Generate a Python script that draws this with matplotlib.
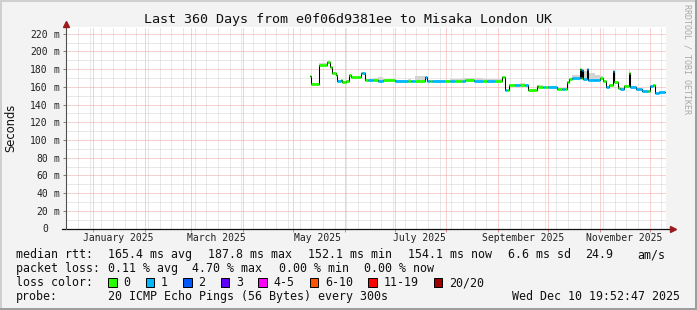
import matplotlib
matplotlib.use("Agg")
import matplotlib.pyplot as plt
import matplotlib.dates as mdates
from matplotlib.patches import Rectangle
from matplotlib.ticker import MultipleLocator
from matplotlib.transforms import blended_transform_factory
import pandas as pd

# ---------------- data ----------------
title = "Last 360 Days from e0f06d9381ee to Misaka London UK"
end_time = "2025-12-10 19:52:47"
span_days = 360

seg_start = [
    "2025-05-11 05:00", "2025-05-11 14:00", "2025-05-16 14:00", "2025-05-21 05:00",
    "2025-05-23 05:00", "2025-05-24 14:00", "2025-05-26 14:00", "2025-05-27 14:00",
    "2025-05-29 14:00", "2025-05-30 14:00", "2025-06-01 14:00", "2025-06-03 14:00",
    "2025-06-04 14:00", "2025-06-10 14:00", "2025-06-11 14:00", "2025-06-13 05:00",
    "2025-06-14 19:00", "2025-06-17 19:00", "2025-06-20 19:00", "2025-06-23 19:00",
    "2025-07-01 12:00", "2025-07-09 07:00", "2025-07-11 00:00", "2025-07-13 12:00",
    "2025-07-19 00:00", "2025-07-20 17:00", "2025-07-22 12:00", "2025-07-23 17:00",
    "2025-07-31 12:00", "2025-08-03 12:00", "2025-08-06 12:00", "2025-08-10 17:00",
    "2025-08-12 12:00", "2025-08-17 22:00", "2025-08-23 07:00", "2025-08-25 17:00",
    "2025-08-30 12:00", "2025-09-03 12:00", "2025-09-05 00:00", "2025-09-05 12:00",
    "2025-09-06 17:00", "2025-09-07 19:00", "2025-09-11 10:00", "2025-09-14 10:00",
    "2025-09-17 10:00", "2025-09-19 00:00", "2025-09-24 10:00", "2025-09-25 05:00",
    "2025-09-28 05:00", "2025-09-29 10:00", "2025-10-01 05:00", "2025-10-06 14:00",
    "2025-10-09 14:00", "2025-10-11 10:00", "2025-10-12 14:00", "2025-10-13 19:00",
    "2025-10-15 14:00", "2025-10-20 10:00", "2025-10-20 22:00", "2025-10-21 14:00",
    "2025-10-22 05:00", "2025-10-24 14:00", "2025-10-25 05:00", "2025-10-29 10:00",
    "2025-11-01 10:00", "2025-11-03 05:00", "2025-11-05 00:00", "2025-11-06 19:00",
    "2025-11-08 22:00", "2025-11-09 12:00", "2025-11-12 07:00", "2025-11-13 10:00",
    "2025-11-15 19:00", "2025-11-18 14:00", "2025-11-19 05:00", "2025-11-23 00:00",
    "2025-11-26 10:00", "2025-11-30 07:00", "2025-12-01 07:00", "2025-12-03 07:00",
    "2025-12-04 07:00", "2025-12-06 22:00",
]
seg_last_end = "2025-12-10 10:00"

median_ms = [
    171.8, 163.0, 184.4, 187.8, 183.0, 175.5, 173.3, 166.2,
    168.0, 165.0, 167.0, 173.7, 170.7, 176.0, 175.5, 168.0,
    167.8, 167.5, 167.2, 167.3, 167.0, 167.2, 167.0, 166.8,
    171.4, 167.2, 167.0, 166.8, 167.0, 167.2, 167.0, 167.1,
    167.3, 167.2, 167.0, 167.1, 167.2, 171.4, 163.5, 156.0,
    156.2, 162.5, 162.3, 162.5, 162.3, 156.7, 161.4, 159.6,
    159.8, 159.6, 160.3, 157.8, 157.6, 157.8, 166.0, 168.6,
    170.5, 180.6, 170.0, 179.0, 168.6, 180.0, 168.0, 167.8,
    170.4, 166.8, 159.5, 162.0, 177.5, 166.0, 159.3, 157.8,
    161.0, 176.0, 160.0, 157.6, 155.8, 155.2, 161.4, 162.0,
    153.4, 154.5,
]

loss_count = [
    0, 0, 0, 0, 0, 0, 0, 1,
    0, 0, 0, 0, 0, 0, 1, 0,
    1, 0, 1, 0, 1, 0, 1, 0,
    1, 1, 0, 1, 0, 1, 0, 1,
    0, 1, 0, 1, 0, 0, 0, 1,
    0, 0, 1, 0, 1, 0, 0, 0,
    1, 0, 1, 0, 1, 0, 0, 0,
    1, 0, 0, 1, 1, 1, 1, 1,
    0, 0, 1, 0, 1, 0, 0, 1,
    0, 0, 1, 1, 1, 0, 1, 0,
    1, 1,
]

smoke_ms = [
    172.5, 164.0, 186.5, 189.0, 184.0, 176.5, 174.5, 167.5,
    169.0, 166.5, 168.0, 175.0, 171.5, 177.0, 176.5, 169.0,
    169.0, 170.5, 171.0, 168.5, 168.0, 168.5, 168.0, 172.5,
    172.5, 168.0, 168.0, 168.0, 168.0, 168.5, 168.5, 169.5,
    169.5, 169.5, 169.0, 169.0, 169.0, 172.0, 164.0, 157.0,
    157.0, 163.5, 163.5, 164.5, 163.5, 157.5, 162.5, 162.0,
    161.5, 161.0, 161.5, 159.0, 158.5, 159.0, 167.0, 170.0,
    173.0, 182.0, 176.0, 181.0, 178.0, 181.0, 176.0, 173.0,
    172.0, 168.0, 161.0, 163.0, 178.5, 167.0, 160.5, 159.0,
    162.0, 179.0, 161.5, 159.0, 157.0, 156.5, 162.5, 163.0,
    154.5, 155.5,
]

y_ticks = [0, 20, 40, 60, 80, 100, 120, 140, 160, 180, 200, 220]
y_tick_numbers = ["0", "20", "40", "60", "80", "100", "120", "140", "160", "180", "200", "220"]
y_tick_units = ["", "m", "m", "m", "m", "m", "m", "m", "m", "m", "m", "m"]
y_max = 228

x_label_text = ["January 2025", "March 2025", "May 2025", "July 2025",
                "September 2025", "November 2025"]
x_label_dates = ["2025-01-16", "2025-03-16", "2025-05-16", "2025-07-16",
                 "2025-09-16", "2025-11-16"]

loss_labels = ["0", "1", "2", "3", "4-5", "6-10", "11-19", "20/20"]
loss_colors = ["#26ff00", "#00b8ff", "#0059ff", "#5e00ff",
               "#ff00ff", "#ff5500", "#ff0000", "#a10000"]

rtt_items = ["median rtt:", "165.4 ms avg", "187.8 ms max", "152.1 ms min",
             "154.1 ms now", "6.6 ms sd", "24.9", "am/s"]
loss_items = ["packet loss:", "0.11 % avg", "4.70 % max", "0.00 % min", "0.00 % now"]
probe_items = ["probe:", "20 ICMP Echo Pings (56 Bytes) every 300s"]
stamp_text = "Wed Dec 10 19:52:47 2025"
watermark = "RRDTOOL / TOBI OETIKER"

# ---------------- layout helpers ----------------
W, H = 697, 310
def fx(px):
    return px / W
def fy(py):
    return 1 - py / H

MONO = "DejaVu Sans Mono"
plt.rcParams["font.family"] = [MONO]

fig = plt.figure(figsize=(W / 100, H / 100), dpi=100)
fig.patch.set_facecolor("#f3f3f3")

ax_left, ax_right, ax_top, ax_bot = 66, 666, 26.7, 228.5
ax = fig.add_axes([fx(ax_left), fy(ax_bot), (ax_right - ax_left) / W, (ax_bot - ax_top) / H])
ax.set_facecolor("white")
for s in ax.spines.values():
    s.set_visible(False)

t_end = pd.Timestamp(end_time)
t_start = t_end - pd.Timedelta(days=span_days)
ax.set_xlim(mdates.date2num(t_start), mdates.date2num(t_end))
ax.set_ylim(0, y_max)

# grid
ax.xaxis.set_major_locator(mdates.MonthLocator())
ax.xaxis.set_minor_locator(mdates.WeekdayLocator(byweekday=mdates.MO))
ax.yaxis.set_major_locator(MultipleLocator(20))
ax.yaxis.set_minor_locator(MultipleLocator(10))
dot = (0, (1, 1))
ax.grid(which="major", color="#f0a4a4", linestyle=dot, linewidth=0.72)
ax.grid(which="minor", color="#d2d2d2", linestyle=dot, linewidth=0.72)
ax.set_axisbelow(True)
ax.tick_params(labelbottom=False, labelleft=False)
ax.tick_params(axis="x", which="major", length=2, color="#e08a8a", width=0.72)
ax.tick_params(axis="y", which="major", length=2, color="#808080", width=0.72)
ax.tick_params(which="minor", length=0)

# data
starts = list(mdates.date2num(pd.to_datetime(seg_start)))
ends = starts[1:] + [mdates.date2num(pd.Timestamp(seg_last_end))]
xs = starts + [ends[-1]]
ys = median_ms + [median_ms[-1]]
ss = smoke_ms + [smoke_ms[-1]]

def loss_color(n):
    if n <= 3:
        return loss_colors[n]
    if n <= 5:
        return loss_colors[4]
    if n <= 10:
        return loss_colors[5]
    if n <= 19:
        return loss_colors[6]
    return loss_colors[7]

ax.fill_between(xs, ys, ss, step="post", color="#d4d4d4", linewidth=0, zorder=2)
ax.step(xs, ys, where="post", color="black", linewidth=0.75, zorder=3)
ax.hlines(median_ms, starts, ends, colors=[loss_color(n) for n in loss_count],
          linewidth=2.0, zorder=4)

# axes lines + arrows
ax.plot([-4 / 600, 1.012], [0, 0], transform=ax.transAxes, color="#101010",
        linewidth=0.9, clip_on=False, zorder=6)
ax.plot([0, 0], [0, 1.012], transform=ax.transAxes, color="#505050",
        linewidth=0.8, clip_on=False, zorder=6)
ax.plot([1.012], [0], marker=">", markersize=4.2, color="#9b1b1b",
        transform=ax.transAxes, clip_on=False, zorder=7)
ax.plot([0], [1.012], marker="^", markersize=4.2, color="#9b1b1b",
        transform=ax.transAxes, clip_on=False, zorder=7)

# y tick labels
ytr = blended_transform_factory(fig.transFigure, ax.transData)
for v, num, unit in zip(y_ticks, y_tick_numbers, y_tick_units):
    ax.text(fx(47.8), v, num, transform=ytr, ha="right", va="center_baseline",
            fontsize=7, color="#202020", family=MONO)
    if unit:
        ax.text(fx(53.5), v, unit, transform=ytr, ha="left", va="center_baseline",
                fontsize=7, color="#202020", family=MONO)

# x labels
xtr = blended_transform_factory(ax.transData, fig.transFigure)
for lab, d in zip(x_label_text, x_label_dates):
    ax.text(mdates.date2num(pd.Timestamp(d)), fy(241.3), lab, transform=xtr,
            ha="center", va="baseline", fontsize=7, color="#202020", family=MONO)

# title, y label, watermark
fig.text(0.5, fy(23.5), title, ha="center", va="baseline", fontsize=9.6,
         color="#101010", family=MONO)
fig.text(fx(11), fy(127.5), "Seconds", rotation=90, ha="center", va="center",
         fontsize=8.3, color="#101010", family="DejaVu Sans")
fig.text(fx(687.5), fy(4.5), watermark, rotation=-90, ha="center", va="top",
         fontsize=6.0, color="#a8a8a8", family=MONO)

# legend
LFS = 8.35
rtt_x = [16, 108, 207.5, 308, 408, 507.5, 585, 637]
for t, x in zip(rtt_items, rtt_x):
    fig.text(fx(x), fy(258), t, ha="left", va="baseline", fontsize=LFS, family=MONO, color="#101010")
loss_x = [16, 108, 192.5, 279, 364.5]
for t, x in zip(loss_items, loss_x):
    fig.text(fx(x), fy(272), t, ha="left", va="baseline", fontsize=LFS, family=MONO, color="#101010")
fig.text(fx(16), fy(286), "loss color:", ha="left", va="baseline", fontsize=LFS, family=MONO, color="#101010")
bx = 108
for lab, col in zip(loss_labels, loss_colors):
    fig.add_artist(Rectangle((fx(bx), fy(287)), 8.5 / W, 9.5 / H, transform=fig.transFigure,
                             facecolor=col, edgecolor="black", linewidth=0.7))
    tx = bx + 15.5
    fig.text(fx(tx), fy(286), lab, ha="left", va="baseline", fontsize=LFS, family=MONO, color="#101010")
    bx = tx + 7.0 * len(lab) + 15.0
probe_x = [16, 108]
for t, x in zip(probe_items, probe_x):
    fig.text(fx(x), fy(300), t, ha="left", va="baseline", fontsize=LFS, family=MONO, color="#101010")
fig.text(fx(680.5), fy(300), stamp_text, ha="right", va="baseline", fontsize=LFS,
         family=MONO, color="#101010")

# frame shading
for (x0, y0, w, h, c) in [
    (0, 0, W, 2, "#cfcfcf"), (0, 0, 2, H, "#cfcfcf"),
    (0, H - 2, W, 2, "#9e9e9e"), (W - 2, 0, 2, H, "#9e9e9e"),
]:
    fig.add_artist(Rectangle((fx(x0), fy(y0 + h)), w / W, h / H, transform=fig.transFigure,
                             facecolor=c, edgecolor="none"))

fig.savefig("out.png", dpi=100, facecolor=fig.get_facecolor())
